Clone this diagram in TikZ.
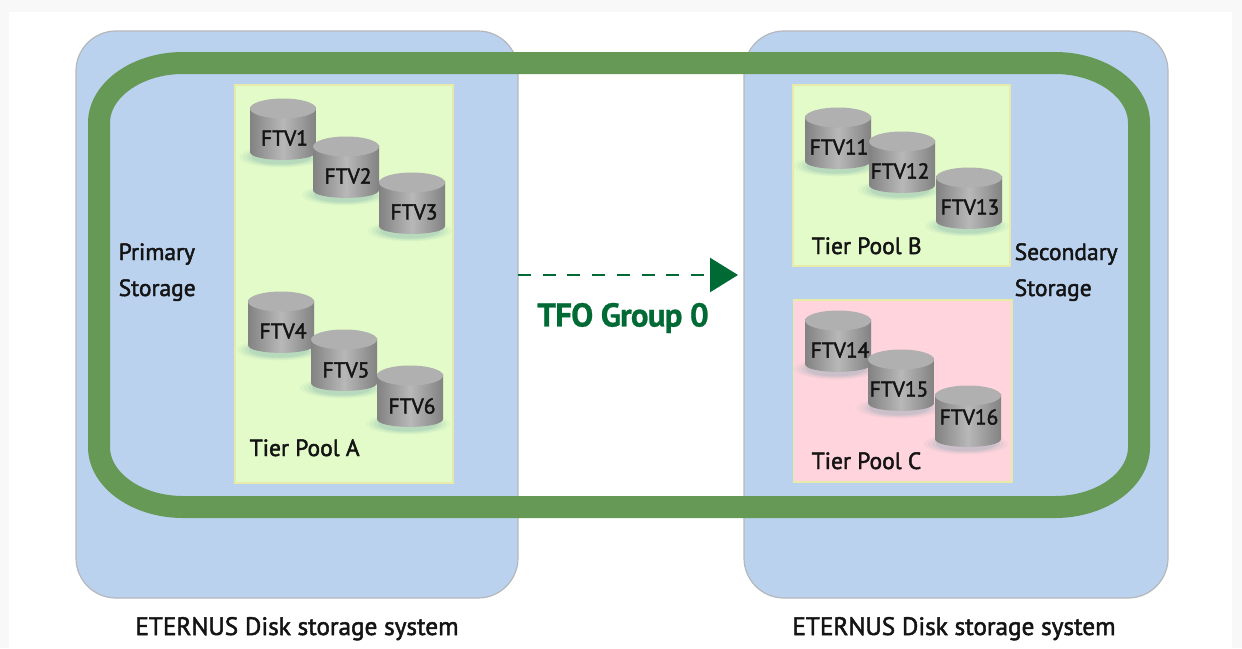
\documentclass[tikz,border=0pt]{standalone}
\usepackage{fontspec}
\setmainfont{PT Sans}
\newfontfamily\semib{PT Sans}[FakeBold=2]
\newfontfamily\tfob{PT Sans Bold}[FakeBold=0.8,LetterSpace=-2.5]
\usetikzlibrary{arrows.meta}
\definecolor{pagebg}{HTML}{F8F8F8}
\definecolor{sysblue}{HTML}{BAD2EE}
\definecolor{sysedge}{HTML}{B4B8BC}
\definecolor{loopgreen}{HTML}{669955}
\definecolor{poolgreen}{HTML}{E2FBC8}
\definecolor{pooledge}{HTML}{E8EBA8}
\definecolor{poolpink}{HTML}{FFD4DC}
\definecolor{tfogreen}{HTML}{006A35}
\definecolor{shadowteal}{HTML}{6A9EA8}
\definecolor{cyldark}{HTML}{828282}
\definecolor{cylmid}{HTML}{B8B8B8}
\definecolor{cyltop}{HTML}{B0B0B0}
\definecolor{txt}{HTML}{141414}
\tikzset{
  x=1pt,y=-1pt,
  sysbox/.style={draw=sysedge,line width=1.2pt,fill=sysblue,rounded corners=40pt},
  pool/.style={draw=pooledge,line width=1.2pt},
  lbl/.style={font=\semib\fontsize{23.5}{24}\selectfont,text=txt,inner sep=0pt},
  toplbl/.style={lbl,anchor=base west},
  cyllbl/.style={lbl,font=\semib\fontsize{21.5}{24}\selectfont},
  caplbl/.style={lbl,anchor=base,font=\semib\fontsize{25.2}{26}\selectfont},
}
% #1 name, #2 #3 cylinder left/top, #4 label, #5 #6 label centre
\newcommand{\cyl}[6]{%
  \foreach \s/\o in {42/0.06,38/0.08,34/0.11,30/0.14}
    \fill[shadowteal,opacity=\o] (#2+31,#3+58) ellipse [x radius=\s,y radius=\s/4];
  \shade[left color=cyldark,right color=cyldark,middle color=cylmid]
    (#2,#3+8) -- (#2,#3+53) .. controls (#2,#3+63.5) and (#2+66,#3+63.5) .. (#2+66,#3+53)
    -- (#2+66,#3+8) -- cycle;
  \fill[cyltop] (#2+33,#3+9.5) ellipse [x radius=33,y radius=10];
  \node[cyllbl] (#1) at (#5,#6) {#4};
}
\begin{document}
\begin{tikzpicture}
\useasboundingbox (0,0) rectangle (1242,648);
\fill[pagebg] (0,0) rectangle (1242,648);
\fill[white] (9,12) rectangle (1232,648);
\draw[sysbox] (76,31) rectangle (518,598);
\draw[sysbox] (744,31) rectangle (1168,598);
\draw[loopgreen,line width=22pt]
  (183,63) -- (1055,63) .. controls (1101,63) and (1139,90) .. (1139,123)
  -- (1139,447) .. controls (1139,480) and (1101,507) .. (1055,507)
  -- (183,507) .. controls (137,507) and (99,480) .. (99,447)
  -- (99,123) .. controls (99,90) and (137,63) .. (183,63) -- cycle;
\fill[pool,fill=poolgreen,draw=pooledge] (235,85) rectangle (453,483);
\fill[pool,fill=poolgreen,draw=pooledge] (793,85) rectangle (1010,266);
\fill[pool,fill=poolpink,draw=pooledge] (793.5,300) rectangle (1012,482);
\cyl{f1}{250}{99}{FTV1}{284.5}{138}
\cyl{f2}{313}{137}{FTV2}{348}{176}
\cyl{f3}{379}{173}{FTV3}{414}{212}
\cyl{f4}{248}{292}{FTV4}{283}{331}
\cyl{f5}{311}{330}{FTV5}{346}{370}
\cyl{f6}{377}{366}{FTV6}{412}{406}
\cyl{f11}{805}{108}{FTV11}{839}{147}
\cyl{f12}{869}{132}{FTV12}{900}{171}
\cyl{f13}{936}{168}{FTV13}{970}{207}
\cyl{f14}{805}{311}{FTV14}{840}{350}
\cyl{f15}{868}{350}{FTV15}{899}{389}
\cyl{f16}{935}{386}{FTV16}{969}{417}
\node[toplbl] (pa) at (249.5,456) {Tier Pool A};
\node[toplbl] (pb) at (811.5,254) {Tier Pool B};
\node[toplbl] (pc) at (811.5,469) {Tier Pool C};
\node[toplbl] (p1) at (118.5,260) {Primary};
\node[toplbl] (p2) at (118.5,296) {Storage};
\node[toplbl] (s1) at (1014.5,260) {Secondary};
\node[toplbl] (s2) at (1014.5,296) {Storage};
\node[caplbl] (c1) at (297,635) {ETERNUS Disk storage system};
\node[caplbl] (c2) at (954,635) {ETERNUS Disk storage system};
\coordinate (ga) at (518,275);
\coordinate (gb) at (738,275);
\draw[tfogreen,line width=2.6pt,dash pattern=on 13pt off 11.7pt,
  -{Triangle[length=28pt,width=34pt]}] (ga) -- (gb);
\node[inner sep=0pt,text=tfogreen,font=\tfob\fontsize{33}{34}\selectfont] (tfo) at (623,318) {TFO Group 0};
\end{tikzpicture}
\end{document}
